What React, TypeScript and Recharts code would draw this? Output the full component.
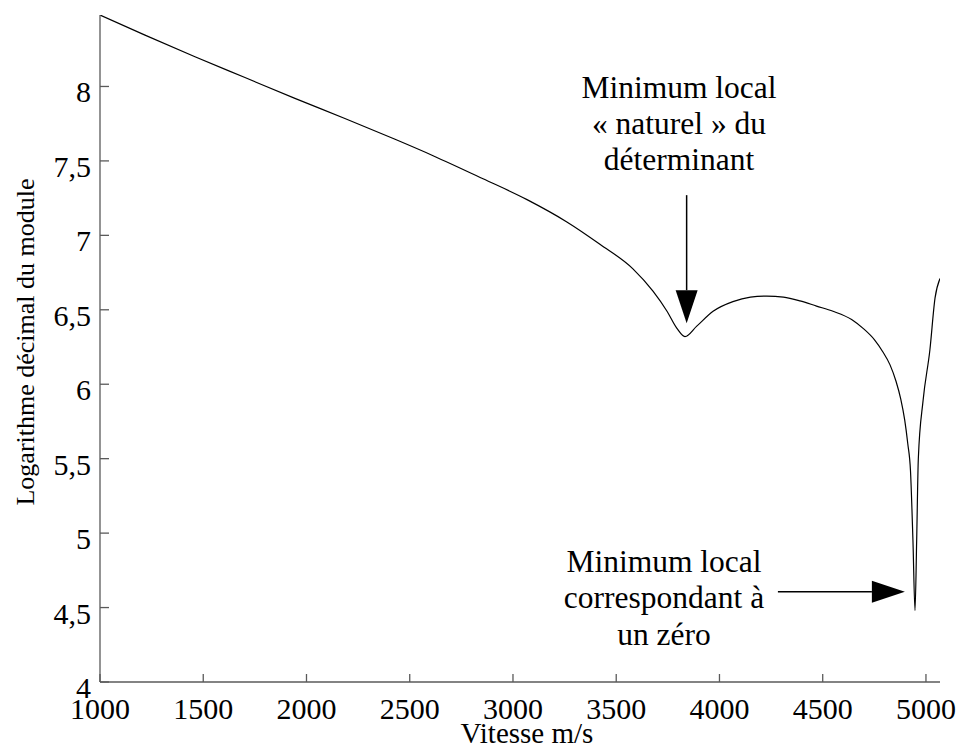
import React from 'react';
import { LineChart, Line, XAxis, YAxis, ReferenceLine, Customized } from 'recharts';

// Valeurs (vitesse m/s, log10 du module)
const speeds = [
  1000, 1218, 1460, 1702, 1944, 2186, 2429, 2613, 2855, 3068, 3261, 3421, 3581, 3678,
  3746, 3794, 3833, 3890, 3969, 4065, 4150, 4229, 4310, 4390, 4470, 4550, 4640, 4700,
  4750, 4790, 4826, 4855, 4878, 4897, 4912, 4925, 4937, 4947, 4955, 4963, 4986, 5019,
  5044, 5068,
];
const logModule = [
  8.48, 8.345, 8.2, 8.06, 7.92, 7.785, 7.645, 7.535, 7.38, 7.24, 7.09, 6.94, 6.775, 6.625,
  6.49, 6.375, 6.32, 6.39, 6.49, 6.555, 6.585, 6.592, 6.585, 6.56, 6.525, 6.49, 6.435, 6.37,
  6.3, 6.22, 6.13, 6.02, 5.9, 5.76, 5.6, 5.42, 4.95, 4.48, 4.95, 5.5, 5.89, 6.23,
  6.58, 6.71,
];
const xTicks = [1000, 1500, 2000, 2500, 3000, 3500, 4000, 4500, 5000];
const yTicks = [4, 4.5, 5, 5.5, 6, 6.5, 7, 7.5, 8];

const naturalMin = [
  { x: 3841, y: 7.27 },
  { x: 3841, y: 6.41 },
];
const zeroMin = [
  { x: 4283, y: 4.607 },
  { x: 4898, y: 4.607 },
];

const chartData = speeds.map((v, i) => ({ v, y: logModule[i] }));

const FONT = '"Liberation Serif", "Times New Roman", serif';
const AXIS_COLOR = '#5a5a5a';

const fmt = (n: number) => String(n).replace('.', ',');

const YTick = (props: any) => {
  const { x, y, payload } = props;
  return (
    <g>
      <line x1={x} y1={y} x2={x + 9} y2={y} stroke={AXIS_COLOR} strokeWidth={1.3} />
      <text x={x - 9} y={y + 16} textAnchor="end" fontSize={30} fontFamily={FONT} fill="#000">
        {fmt(payload.value)}
      </text>
    </g>
  );
};

const XTick = (props: any) => {
  const { x, y, payload } = props;
  return (
    <g>
      <line x1={x} y1={y} x2={x} y2={y - 8} stroke={AXIS_COLOR} strokeWidth={1.3} />
      <text x={x} y={y + 37} textAnchor="middle" fontSize={30} fontFamily={FONT} fill="#000">
        {payload.value}
      </text>
    </g>
  );
};

// flèche pleine, pointe à (x2, y2)
const Arrow = (props: any) => {
  const { x1, y1, x2, y2 } = props;
  const len = Math.hypot(x2 - x1, y2 - y1) || 1;
  const ux = (x2 - x1) / len;
  const uy = (y2 - y1) / len;
  const headL = 33;
  const headW = 11;
  const bx = x2 - ux * headL;
  const by = y2 - uy * headL;
  const pts = `${x2},${y2} ${bx - uy * headW},${by + ux * headW} ${bx + uy * headW},${by - ux * headW}`;
  return (
    <g>
      <line x1={x1} y1={y1} x2={bx} y2={by} stroke="#000" strokeWidth={1.5} />
      <polygon points={pts} fill="#000" />
    </g>
  );
};

const Texts = () => (
  <g fontFamily={FONT} fill="#000">
    <text x={679} y={98} textAnchor="middle" fontSize={31.5}>Minimum local</text>
    <text x={679} y={134} textAnchor="middle" fontSize={31.5}>« naturel » du</text>
    <text x={679} y={170} textAnchor="middle" fontSize={31.5}>déterminant</text>
    <text x={664} y={572} textAnchor="middle" fontSize={31.5}>Minimum local</text>
    <text x={664} y={608} textAnchor="middle" fontSize={31.5}>correspondant à</text>
    <text x={664} y={645} textAnchor="middle" fontSize={31.5}>un zéro</text>
    <text x={527} y={743} textAnchor="middle" fontSize={29}>Vitesse m/s</text>
    <text x={34} y={342} textAnchor="middle" fontSize={26} transform="rotate(-90 34 342)">
      Logarithme décimal du module
    </text>
  </g>
);

export default function App() {
  return (
    <div style={{ position: 'absolute', left: 0, top: 0, background: '#fff' }}>
      <LineChart
        width={965}
        height={749}
        data={chartData}
        margin={{ top: 15, right: 25, left: 0, bottom: 0 }}
      >
        <XAxis
          dataKey="v"
          type="number"
          domain={[1000, 5068]}
          ticks={xTicks}
          allowDataOverflow
          height={67}
          tickSize={0}
          tickMargin={0}
          tickLine={false}
          stroke={AXIS_COLOR}
          strokeWidth={1.3}
          tick={<XTick />}
          interval={0}
        />
        <YAxis
          type="number"
          domain={[4, 8.48]}
          ticks={yTicks}
          allowDataOverflow
          width={100}
          tickSize={0}
          tickMargin={0}
          tickLine={false}
          stroke={AXIS_COLOR}
          strokeWidth={1.3}
          tick={<YTick />}
          interval={0}
        />
        <Line
          type="monotone"
          dataKey="y"
          stroke="#000"
          strokeWidth={1.2}
          dot={false}
          activeDot={false}
          isAnimationActive={false}
        />
        <ReferenceLine segment={naturalMin} shape={<Arrow />} />
        <ReferenceLine segment={zeroMin} shape={<Arrow />} />
        <Customized component={<Texts />} />
      </LineChart>
    </div>
  );
}
